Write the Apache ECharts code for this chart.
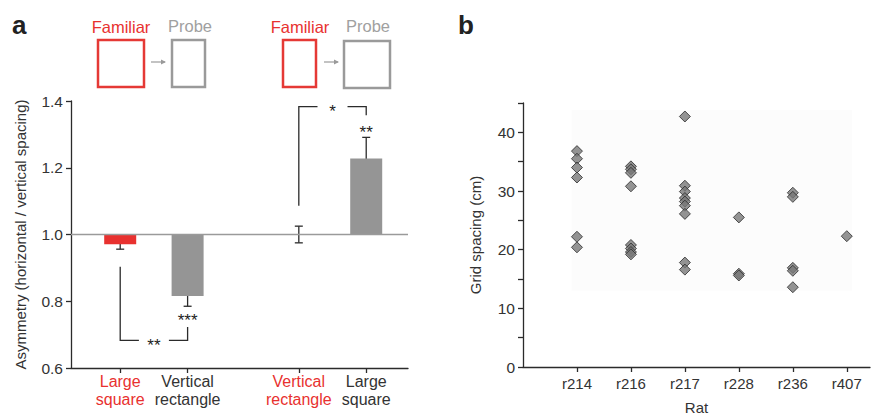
<!DOCTYPE html>
<html><head><meta charset="utf-8">
<script src="https://cdn.jsdelivr.net/npm/echarts@6/dist/echarts.min.js"></script>
<style>html,body{margin:0;padding:0;background:#fff}#c{width:875px;height:415px}</style>
</head><body><div id="c"></div>
<script>
// ---------- Panel a data ----------
const conditions = ['Large\nsquare', 'Vertical\nrectangle', 'Vertical\nrectangle', 'Large\nsquare'];
const condRole = ['familiar', 'probe', 'familiar', 'probe'];
const condPos = [1, 2, 3.65, 4.65];
const asymMean = [0.971, 0.816, 1.0, 1.228];
const asymErr = [0.015, 0.031, 0.025, 0.063];
const asymTicks = [0.6, 0.8, 1.0, 1.2, 1.4];
// significance brackets: [fromCond, toCond, leftLegEnd, rightLegEnd, level]
const bracketFrom = [0, 2];
const bracketTo = [1, 3];
const bracketLeftEnd = [0.903, 1.086];
const bracketRightEnd = [0.723, 1.357];
const bracketLevel = [0.683, 1.383];
const bracketLabel = ['**', '*'];
const starCond = [1, 3];
const starY = [0.758, 1.32];
const starLabel = ['***', '**'];

// ---------- Panel b data ----------
const rats = ['r214', 'r216', 'r217', 'r228', 'r236', 'r407'];
const r214 = [36.8, 35.5, 34.0, 32.3, 22.2, 20.4];
const r216 = [34.2, 33.7, 33.1, 30.8, 20.8, 20.2, 19.6, 19.2];
const r217 = [42.7, 30.9, 29.9, 28.8, 28.2, 27.5, 26.1, 17.8, 16.6];
const r228 = [25.5, 15.9, 15.6];
const r236 = [29.7, 29.0, 16.9, 16.4, 13.6];
const r407 = [22.3];
const spacingByRat = [r214, r216, r217, r228, r236, r407];

const RED = '#e8312f', GRAY = '#959595', DARK = '#2b2b2b', FONT = '"Liberation Sans", Arial, sans-serif';

const barData = condPos.map((x, i) => [x, asymMean[i], i]);
const errData = condPos.map((x, i) => [x, asymMean[i], asymErr[i]]);
const bracketData = bracketFrom.map((f, i) => [condPos[f], condPos[bracketTo[i]], bracketLeftEnd[i], bracketRightEnd[i], bracketLevel[i], i]);
const starData = starCond.map((c, i) => [condPos[c], starY[i], i]);
const scatterData = [];
spacingByRat.forEach((arr, i) => arr.forEach(v => scatterData.push([i + 1, v])));

const chart = echarts.init(document.getElementById('c'), null, {renderer: 'svg'});
const lineStyle = {stroke: DARK, lineWidth: 1.3, fill: null};

const option = {
  animation: false,
  textStyle: {fontFamily: FONT},
  grid: [
    {left: 71, right: 467, top: 101, bottom: 47, outerBoundsMode: 'none', containLabel: false},
    {left: 523, right: 5, top: 103, bottom: 48, outerBoundsMode: 'none', containLabel: false}
  ],
  xAxis: [
    {gridIndex: 0, type: 'value', min: 0.27, max: 5.27, splitLine: {show: false},
     axisLine: {lineStyle: {color: DARK, width: 1.3}},
     axisTick: {customValues: condPos, length: 5, lineStyle: {color: DARK, width: 1.3}},
     axisLabel: {customValues: condPos, margin: 4, fontSize: 16, lineHeight: 18.5, color: '#333',
       formatter: v => { const i = condPos.indexOf(v); if (i < 0) return '';
         return '{' + (condRole[i] === 'familiar' ? 'f' : 'p') + '|' + conditions[i] + '}'; },
       rich: {f: {color: RED, fontSize: 16, lineHeight: 18.5}, p: {color: '#333', fontSize: 16, lineHeight: 18.5}}}},
    {gridIndex: 1, type: 'value', min: 0, max: 6.43, splitLine: {show: false},
     name: 'Rat', nameLocation: 'middle', nameGap: 33, nameTextStyle: {fontSize: 15, color: '#333'},
     axisLine: {lineStyle: {color: DARK, width: 1.3}},
     axisTick: {customValues: [1, 2, 3, 4, 5, 6], length: 5, lineStyle: {color: DARK, width: 1.3}},
     axisLabel: {customValues: [1, 2, 3, 4, 5, 6], margin: 9, fontSize: 15, color: '#333',
       formatter: v => rats[Math.round(v) - 1] || ''}}
  ],
  yAxis: [
    {gridIndex: 0, type: 'value', min: 0.6, max: 1.4, interval: 0.2, splitLine: {show: false},
     name: 'Asymmetry (horizontal / vertical spacing)', nameLocation: 'middle', nameGap: 43,
     nameTextStyle: {fontSize: 15, color: '#333'},
     axisLine: {lineStyle: {color: DARK, width: 1.3}},
     axisTick: {length: 5, lineStyle: {color: DARK, width: 1.3}},
     axisLabel: {fontSize: 15.5, color: '#333', margin: 8, formatter: v => v.toFixed(1)}},
    {gridIndex: 1, type: 'value', min: 0, max: 45, interval: 5, splitLine: {show: false},
     name: 'Grid spacing (cm)', nameLocation: 'middle', nameGap: 40,
     nameTextStyle: {fontSize: 15, color: '#333'},
     axisLine: {lineStyle: {color: DARK, width: 1.3}},
     axisTick: {length: 5, lineStyle: {color: DARK, width: 1.3}},
     axisLabel: {fontSize: 15.5, color: '#333', margin: 8, formatter: v => (v % 10 === 0 ? String(v) : '')}}
  ],
  series: [
    {type: 'custom', xAxisIndex: 0, yAxisIndex: 0, data: errData, z: 2,
     renderItem: (params, api) => {
       const x = api.value(0), m = api.value(1), e = api.value(2);
       const top = api.coord([x, m + e]), bot = api.coord([x, m - e]);
       const w = 4;
       return {type: 'group', children: [
         {type: 'line', shape: {x1: top[0], y1: top[1], x2: bot[0], y2: bot[1]}, style: lineStyle},
         {type: 'line', shape: {x1: top[0] - w, y1: top[1], x2: top[0] + w, y2: top[1]}, style: lineStyle},
         {type: 'line', shape: {x1: bot[0] - w, y1: bot[1], x2: bot[0] + w, y2: bot[1]}, style: lineStyle}
       ]};
     },
     markLine: {silent: true, symbol: 'none', label: {show: false},
       lineStyle: {color: '#9a9a9a', width: 1.3, type: 'solid'}, data: [{yAxis: 1}]}},
    {type: 'custom', xAxisIndex: 0, yAxisIndex: 0, data: barData, z: 3,
     renderItem: (params, api) => {
       const x = api.value(0), v = api.value(1), i = api.value(2);
       const a = api.coord([x, 1]), b = api.coord([x, v]);
       const bw = 32;
       return {type: 'rect', shape: {x: a[0] - bw / 2, y: Math.min(a[1], b[1]), width: bw, height: Math.abs(a[1] - b[1])},
         style: {fill: condRole[i] === 'familiar' ? RED : GRAY}};
     }},
    {type: 'custom', xAxisIndex: 0, yAxisIndex: 0, data: bracketData, z: 4,
     renderItem: (params, api) => {
       const x1 = api.value(0), x2 = api.value(1), yA = api.value(2), yB = api.value(3), lv = api.value(4), i = api.value(5);
       const p1 = api.coord([x1, yA]), p2 = api.coord([x1, lv]), p3 = api.coord([x2, lv]), p4 = api.coord([x2, yB]);
       const mid = (p2[0] + p3[0]) / 2, gap = 15;
       return {type: 'group', children: [
         {type: 'polyline', shape: {points: [p1, p2, [mid - gap, p2[1]]]}, style: lineStyle},
         {type: 'polyline', shape: {points: [[mid + gap, p3[1]], p3, p4]}, style: lineStyle},
         {type: 'text', style: {text: bracketLabel[i], x: mid, y: p2[1] + 5, align: 'center', verticalAlign: 'middle',
           textAlign: 'center', textVerticalAlign: 'middle', fontSize: 17, fontFamily: FONT, fill: '#222'}}
       ]};
     }},
    {type: 'custom', xAxisIndex: 0, yAxisIndex: 0, data: starData, z: 4,
     renderItem: (params, api) => {
       const p = api.coord([api.value(0), api.value(1)]), i = api.value(2);
       return {type: 'text', style: {text: starLabel[i], x: p[0], y: p[1] + 5, align: 'center', verticalAlign: 'middle',
         textAlign: 'center', textVerticalAlign: 'middle', fontSize: 17, fontFamily: FONT, fill: '#222'}};
     }},
    {type: 'scatter', xAxisIndex: 1, yAxisIndex: 1, data: scatterData, symbol: 'diamond', symbolSize: 11,
     itemStyle: {color: '#787878', borderColor: '#2a2a2a', borderWidth: 1},
     markArea: {silent: true, itemStyle: {color: '#fcfcfc', opacity: 1}, data: [[{coord: [0.9, 13]}, {coord: [6.1, 43.8]}]]}}
  ],
  graphic: [
    {type: 'text', left: 12, top: 12, style: {text: 'a', font: 'bold 26px ' + FONT, fill: '#222'}},
    {type: 'text', left: 458, top: 12, style: {text: 'b', font: 'bold 26px ' + FONT, fill: '#222'}},
    {type: 'text', x: 121, y: 27, style: {text: 'Familiar', fontSize: 16.5, fontFamily: FONT, fill: RED, align: 'center', verticalAlign: 'middle'}},
    {type: 'text', x: 190, y: 26, style: {text: 'Probe', fontSize: 16.5, fontFamily: FONT, fill: '#a0a0a0', align: 'center', verticalAlign: 'middle'}},
    {type: 'text', x: 300, y: 27, style: {text: 'Familiar', fontSize: 16.5, fontFamily: FONT, fill: RED, align: 'center', verticalAlign: 'middle'}},
    {type: 'text', x: 368, y: 26, style: {text: 'Probe', fontSize: 16.5, fontFamily: FONT, fill: '#a0a0a0', align: 'center', verticalAlign: 'middle'}},
    {type: 'rect', shape: {x: 98, y: 40, width: 46, height: 47}, style: {fill: null, stroke: '#e53935', lineWidth: 2.5}},
    {type: 'rect', shape: {x: 172, y: 40, width: 33, height: 47}, style: {fill: null, stroke: '#9a9a9a', lineWidth: 2.5}},
    {type: 'rect', shape: {x: 283, y: 40, width: 33, height: 47}, style: {fill: null, stroke: '#e53935', lineWidth: 2.5}},
    {type: 'rect', shape: {x: 344, y: 41, width: 46, height: 47}, style: {fill: null, stroke: '#9a9a9a', lineWidth: 2.5}},
    {type: 'line', shape: {x1: 151, y1: 62, x2: 165, y2: 62}, style: {stroke: '#9a9a9a', lineWidth: 1.2}},
    {type: 'polygon', shape: {points: [[166, 62], [161, 59.5], [161, 64.5]]}, style: {fill: '#9a9a9a'}},
    {type: 'line', shape: {x1: 324, y1: 62, x2: 338, y2: 62}, style: {stroke: '#9a9a9a', lineWidth: 1.2}},
    {type: 'polygon', shape: {points: [[339, 62], [334, 59.5], [334, 64.5]]}, style: {fill: '#9a9a9a'}}
  ]
};
chart.setOption(option);
</script></body></html>
